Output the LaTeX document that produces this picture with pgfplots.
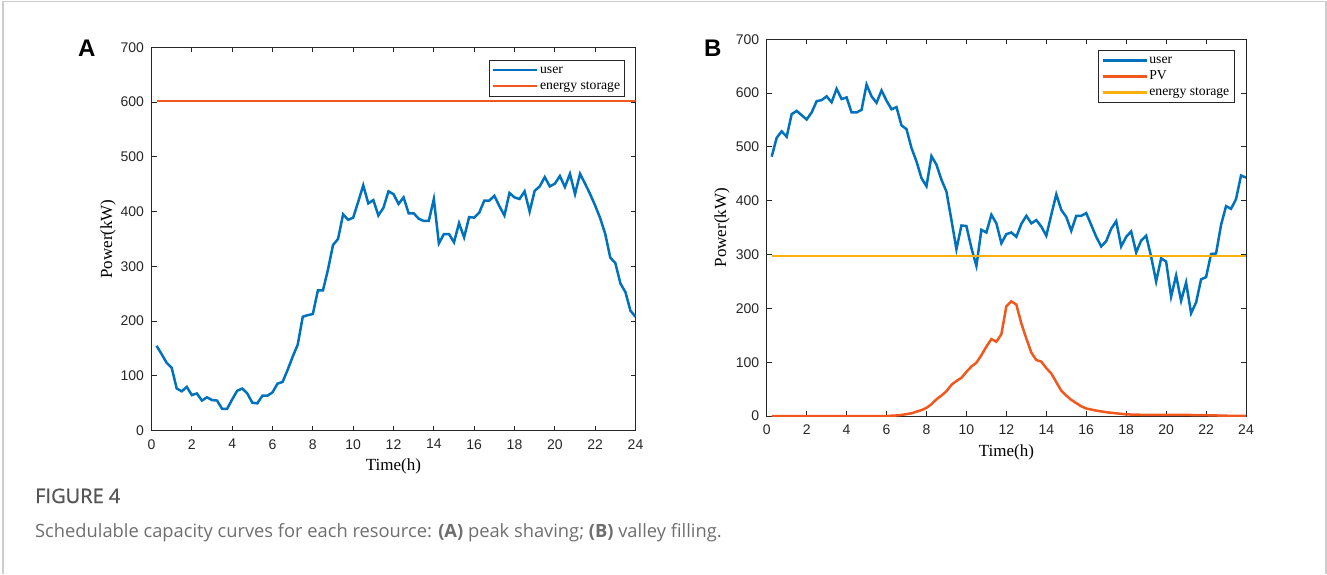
\documentclass[border=0pt]{standalone}
\usepackage{pgfplots}
\pgfplotsset{compat=1.18}
\usepackage{fontspec}
\setmainfont{Liberation Serif}
\newfontfamily\ticksf{Liberation Sans}
\newfontfamily\capf{Open Sans}
\newfontfamily\capfb[FakeBold=0.8]{Open Sans}
\definecolor{mblue}{RGB}{0,114,189}
\definecolor{morange}{RGB}{240,88,30}
\definecolor{myellow}{RGB}{250,175,10}
\definecolor{axgray}{RGB}{38,38,38}
\definecolor{bordergray}{RGB}{205,205,205}
\definecolor{capgray}{RGB}{85,85,85}
\definecolor{captext}{RGB}{110,110,110}

\pgfplotsset{
  mystyle/.style={
    scale only axis, xmin=0,xmax=24,ymin=0,ymax=700,
    xtick={0,2,...,24}, ytick={0,100,...,700},
    tick align=inside, major tick length=5pt,
    axis line style={axgray, line width=1pt},
    tick style={axgray, line width=0.9pt},
    every tick label/.append style={font=\ticksf\fontsize{14}{14}\selectfont, text=axgray},
    /pgf/number format/assume math mode=true,
    xticklabel style={yshift=-5pt},
    yticklabel style={xshift=-4pt},
    label style={font=\fontsize{17}{17}\selectfont},
    xlabel={Time(h)}, ylabel={Power(kW)},
    legend cell align=left,
    legend image code/.code={\draw[#1, line width=2.6pt] (0pt,0pt) -- (44pt,0pt);},
    every legend image post/.append style={line width=2.6pt},
    legend style={draw=axgray, fill=white, font=\fontsize{13.7}{13.7}\selectfont, inner xsep=3pt, inner ysep=2pt, row sep=0pt, nodes={inner sep=1.5pt, text height=10pt, text depth=3pt}, anchor=north east},
  }
}

\begin{document}
\begin{tikzpicture}[x=1pt,y=1pt]
\path[use as bounding box] (0,0) rectangle (1327,574);
\draw[bordergray, line width=1.5pt] (3,0) -- (3,572.5) -- (1326,572.5) -- (1326,0);

\begin{axis}[mystyle, at={(151.5pt,143.3pt)}, anchor=south west, width=484pt, height=383.4pt,
  xlabel style={at={(axis description cs:0.5,-0.092)}, anchor=center},
  ylabel style={at={(axis description cs:-0.09,0.5)}, anchor=center},
  legend style={at={(0.978,0.967)}}]
\addplot[mblue, line width=2.5pt] table[x=t,y=v] {
t v
0.25 155
0.5 140
0.75 124
1.0 115
1.25 77
1.5 72
1.75 80
2.0 65
2.25 68
2.5 55
2.75 61
3.0 56
3.25 55
3.5 40
3.75 40
4.0 57
4.25 73
4.5 77
4.75 68
5.0 51
5.25 50
5.5 64
5.75 64
6.0 70
6.25 86
6.5 89
6.75 111
7.0 135
7.25 157
7.5 208
7.75 211
8.0 213
8.25 256
8.5 256
8.75 294
9.0 339
9.25 350
9.5 395
9.75 385
10.0 389
10.25 418
10.5 448
10.75 415
11.0 421
11.25 393
11.5 407
11.75 437
12.0 432
12.25 414
12.5 426
12.75 397
13.0 397
13.25 387
13.5 383
13.75 383
14.0 423
14.25 342
14.5 359
14.75 359
15.0 344
15.25 379
15.5 353
15.75 390
16.0 389
16.25 398
16.5 420
16.75 420
17.0 429
17.25 410
17.5 393
17.75 434
18.0 426
18.25 423
18.5 437
18.75 400
19.0 438
19.25 446
19.5 463
19.75 446
20.0 451
20.25 465
20.5 445
20.75 469
21.0 432
21.25 469
21.5 451
21.75 432
22.0 411
22.25 388
22.5 359
22.75 316
23.0 306
23.25 269
23.5 253
23.75 219
24.0 208
};
\addlegendentry{user}
\addplot[morange, line width=2.5pt] table[x=t,y=v] {
t v
0.25 602
24.0 602
};
\addlegendentry{energy storage}
\end{axis}

\begin{axis}[mystyle, at={(766.7pt,158pt)}, anchor=south west, width=479.3pt, height=376.7pt,
  xlabel style={at={(axis description cs:0.5,-0.0956)}, anchor=center},
  ylabel style={at={(axis description cs:-0.0933,0.5)}, anchor=center},
  legend style={at={(0.975,0.971)}}]
\addplot[mblue, line width=2.5pt] table[x=t,y=v] {
t v
0.25 482
0.5 517
0.75 529
1.0 519
1.25 561
1.5 567
1.75 559
2.0 551
2.25 564
2.5 585
2.75 587
3.0 594
3.25 583
3.5 608
3.75 589
4.0 592
4.25 564
4.5 564
4.75 569
5.0 616
5.25 594
5.5 582
5.75 605
6.0 586
6.25 570
6.5 574
6.75 540
7.0 533
7.25 498
7.5 473
7.75 442
8.0 427
8.25 483
8.5 467
8.75 439
9.0 417
9.25 364
9.5 310
9.75 354
10.0 353
10.25 312
10.5 279
10.75 346
11.0 341
11.25 374
11.5 358
11.75 321
12.0 338
12.25 341
12.5 333
12.75 357
13.0 372
13.25 358
13.5 364
13.75 352
14.0 335
14.25 374
14.5 412
14.75 383
15.0 370
15.25 344
15.5 372
15.75 372
16.0 377
16.25 355
16.5 333
16.75 315
17.0 325
17.25 348
17.5 362
17.75 315
18.0 333
18.25 343
18.5 304
18.75 326
19.0 335
19.25 296
19.5 250
19.75 293
20.0 287
20.25 222
20.5 261
20.75 214
21.0 248
21.25 191
21.5 211
21.75 254
22.0 258
22.25 301
22.5 302
22.75 355
23.0 390
23.25 385
23.5 403
23.75 447
24.0 443
};
\addlegendentry{user}
\addplot[morange, line width=2.5pt] table[x=t,y=v] {
t v
0.25 0
1.0 0
2.0 0
3.0 0
4.0 0
5.0 0
6.0 0
6.25 0.5
6.5 1
6.75 2
7.0 3.5
7.25 5
7.5 8
7.75 11
8.0 15
8.25 22
8.5 31
8.75 38
9.0 46
9.25 58
9.5 65
9.75 71
10.0 82
10.25 92
10.5 99
10.75 113
11.0 129
11.25 143
11.5 138
11.75 152
12.0 204
12.25 213
12.5 207
12.75 172
13.0 144
13.25 118
13.5 104
13.75 101
14.0 89
14.25 79
14.5 63
14.75 47
15.0 38
15.25 30
15.5 24
15.75 18
16.0 14
16.25 12
16.5 10
16.75 8.5
17.0 7
17.25 6
17.5 5
17.75 4
18.0 3
18.5 2.5
19.0 2
20.0 2
21.0 2
22.0 1.5
23.0 0.5
24.0 0
};
\addlegendentry{PV}
\addplot[myellow, line width=2.5pt] table[x=t,y=v] {
t v
0.25 297
24.0 297
};
\addlegendentry{energy storage}
\end{axis}

\node[anchor=base west, inner sep=0, font=\ticksf\bfseries\fontsize{24}{24}\selectfont] at (78,517.7) {A};
\node[anchor=base west, inner sep=0, font=\ticksf\bfseries\fontsize{24}{24}\selectfont] at (704,517.7) {B};
\node[anchor=base west, inner sep=0, font=\capfb\fontsize{20}{20}\selectfont, text=capgray] at (35,71) {FIGURE 4};
\node[anchor=base west, inner sep=0, font=\capf\fontsize{18.3}{18.3}\selectfont, text=captext] at (35,37) {Schedulable capacity curves for each resource: \textbf{(A)} peak shaving; \textbf{(B)} valley filling.};
\end{tikzpicture}
\end{document}
